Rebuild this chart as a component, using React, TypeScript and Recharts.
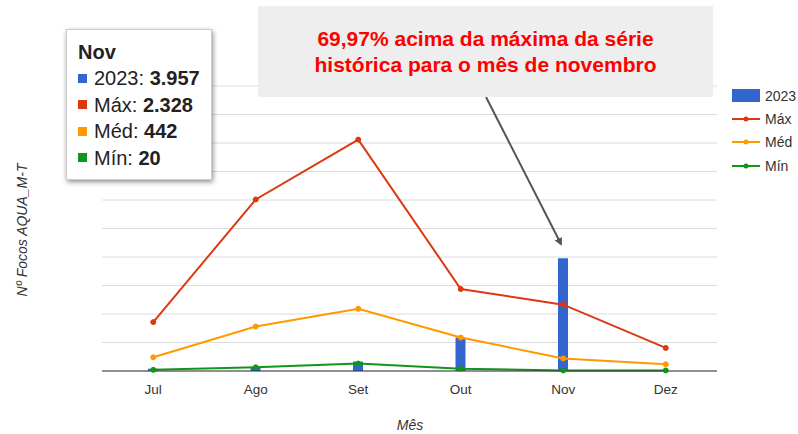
import { Bar, CartesianGrid, ComposedChart, Line, XAxis, YAxis } from 'recharts';

const months = ['Jul', 'Ago', 'Set', 'Out', 'Nov', 'Dez'];
const focos2023 = [80, 140, 330, 1170, 3957, 0];
const maxima = [1715, 6020, 8120, 2877, 2328, 810];
const media = [482, 1560, 2183, 1173, 442, 236];
const minima = [40, 130, 260, 80, 20, 20];
const yTicks = [0, 1000, 2000, 3000, 4000, 5000, 6000, 7000, 8000, 9000, 10000];

const tooltipRows = [
    { label: '2023', value: '3.957', color: '#3366cc' },
    { label: 'Máx', value: '2.328', color: '#dc3912' },
    { label: 'Méd', value: '442', color: '#ff9900' },
    { label: 'Mín', value: '20', color: '#109618' }
];

const FONT = '"Liberation Sans", Arial, sans-serif';

export default function App() {
    const data = months.map((m, i) => ({
        month: m,
        y2023: focos2023[i],
        max: maxima[i],
        med: media[i],
        min: minima[i]
    }));

    return (
        <div style={{ position: 'absolute', left: 0, top: 0, width: 798, height: 434, background: '#fff', fontFamily: FONT, overflow: 'hidden' }}>
            <ComposedChart width={798} height={434} data={data} margin={{ top: 86, right: 81, bottom: 33, left: 102 }}>
                <CartesianGrid vertical={false} stroke="#dcdcdc" />
                <YAxis hide domain={[0, 10000]} ticks={yTicks} />
                <XAxis dataKey="month" height={30} axisLine={{ stroke: '#333' }} tickLine={false}
                    tick={{ fontSize: 13.5, fill: '#333', fontFamily: FONT }} tickMargin={7} />
                <Bar dataKey="y2023" fill="#3366cc" barSize={10} isAnimationActive={false} />
                <Line type="linear" dataKey="max" stroke="#dc3912" strokeWidth={2}
                    dot={{ r: 2.5, fill: '#dc3912', stroke: '#dc3912', strokeWidth: 1 }} isAnimationActive={false} />
                <Line type="linear" dataKey="med" stroke="#ff9900" strokeWidth={2}
                    dot={{ r: 2.5, fill: '#ff9900', stroke: '#ff9900', strokeWidth: 1 }} isAnimationActive={false} />
                <Line type="linear" dataKey="min" stroke="#109618" strokeWidth={2}
                    dot={{ r: 2.5, fill: '#109618', stroke: '#109618', strokeWidth: 1 }} isAnimationActive={false} />
            </ComposedChart>

            {/* axis titles + arrow */}
            <svg width={798} height={434} style={{ position: 'absolute', left: 0, top: 0, pointerEvents: 'none' }}>
                <defs>
                    <marker id="head" markerWidth="8" markerHeight="8" refX="6" refY="4" orient="auto" markerUnits="userSpaceOnUse" viewBox="0 0 8 8">
                        <path d="M0,0 L8,4 L0,8 z" fill="#555" />
                    </marker>
                </defs>
                <text x={22} y={230} transform="rotate(-90 22 230)" textAnchor="middle" dominantBaseline="central"
                    fontSize={14} fontStyle="italic" fill="#333" fontFamily={FONT}>Nº Focos AQUA_M-T</text>
                <text x={410} y={425} textAnchor="middle" dominantBaseline="central"
                    fontSize={14} fontStyle="italic" fill="#333" fontFamily={FONT}>Mês</text>
                <line x1={486} y1={97} x2={561} y2={244} stroke="#555" strokeWidth={2} markerEnd="url(#head)" />
            </svg>

            {/* legend */}
            <div style={{ position: 'absolute', left: 732, top: 84, fontSize: 14, color: '#333' }}>
                <div style={{ display: 'flex', alignItems: 'center', height: 23 }}>
                    <div style={{ width: 28, height: 13, background: '#3366cc' }} />
                    <span style={{ marginLeft: 5 }}>2023</span>
                </div>
                {[['Máx', '#dc3912'], ['Méd', '#ff9900'], ['Mín', '#109618']].map(([l, c]) => (
                    <div key={l} style={{ display: 'flex', alignItems: 'center', height: 23.5 }}>
                        <svg width={28} height={8}>
                            <line x1={0} y1={4} x2={28} y2={4} stroke={c} strokeWidth={2} />
                            <circle cx={14} cy={4} r={2.5} fill={c} />
                        </svg>
                        <span style={{ marginLeft: 5 }}>{l}</span>
                    </div>
                ))}
            </div>

            {/* tooltip box */}
            <div style={{ position: 'absolute', left: 66, top: 29, width: 146, height: 151, boxSizing: 'border-box', background: '#fff',
                border: '1px solid #ccc', boxShadow: '1px 2px 5px rgba(0,0,0,0.45)', padding: '9px 0 0 11px', color: '#222' }}>
                <div style={{ fontWeight: 'bold', fontSize: 20, lineHeight: '26px' }}>Nov</div>
                {tooltipRows.map(r => (
                    <div key={r.label} style={{ display: 'flex', alignItems: 'center', fontSize: 20, lineHeight: '26.5px', whiteSpace: 'nowrap' }}>
                        <div style={{ width: 9, height: 9, background: r.color, marginRight: 7 }} />
                        <span>{r.label}: <b>{r.value}</b></span>
                    </div>
                ))}
            </div>

            {/* annotation */}
            <div style={{ position: 'absolute', left: 258, top: 6, width: 455, height: 91, background: '#eeeeee',
                display: 'flex', alignItems: 'center', justifyContent: 'center', textAlign: 'center',
                color: '#ff0000', fontWeight: 'bold', fontSize: 21, lineHeight: '26px' }}>
                69,97% acima da máxima da série<br />histórica para o mês de novembro
            </div>
        </div>
    );
}
